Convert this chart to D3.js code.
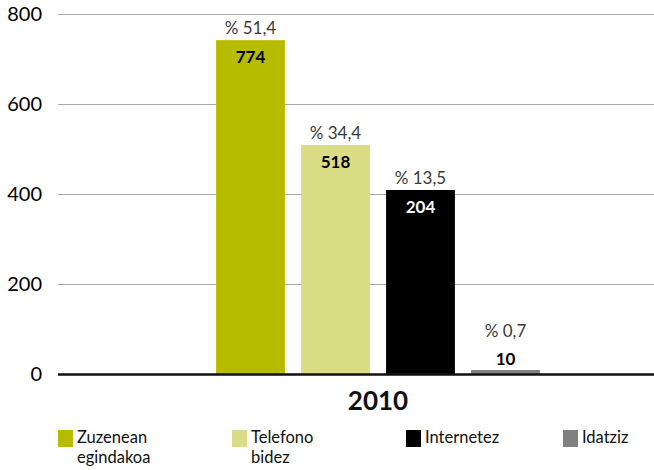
<!DOCTYPE html>
<html>
<head>
<meta charset="utf-8">
<script src="https://cdn.jsdelivr.net/npm/d3@7"></script>
<style>
    body { margin: 0; background: #fff; }
    svg text { font-family: Lato, "Open Sans", sans-serif; }
</style>
</head>
<body>
<div id="chart"></div>
<script>
// data
const years = ["2010"];
const series = ["Zuzenean egindakoa", "Telefono bidez", "Internetez", "Idatziz"];
const legendLines = [["Zuzenean", "egindakoa"], ["Telefono", "bidez"], ["Internetez"], ["Idatziz"]];
// bar heights as drawn in the picture (the printed labels differ)
const barValues = [743, 510, 410, 10];
const valueLabels = ["774", "518", "204", "10"];
const percentLabels = ["% 51,4", "% 34,4", "% 13,5", "% 0,7"];
const yTicks = [0, 200, 400, 600, 800];
const colors = ["#b7bc00", "#dbdd86", "#000000", "#808080"];

const width = 654, height = 470;
const svg = d3.select("#chart").append("svg")
    .attr("width", width)
    .attr("height", height);

const left = 58, zeroY = 374.5, topY = 14.5;

const y = d3.scaleLinear().domain([0, 800]).range([zeroY, topY]);

const x0 = d3.scaleBand().domain(years).range([left, 698]);
const groupWidth = 340;
const x1 = d3.scaleBand().domain(series)
    .range([0, groupWidth])
    .paddingInner(0.19)
    .paddingOuter(0.095);
const groupStart = x0("2010") + x0.bandwidth() / 2 - groupWidth / 2;

// gridlines
svg.append("g")
    .selectAll("line")
    .data(yTicks.filter(d => d > 0))
    .join("line")
    .attr("x1", left)
    .attr("x2", width)
    .attr("y1", d => y(d))
    .attr("y2", d => y(d))
    .attr("stroke", "#a8a8a8")
    .attr("stroke-width", 1.2);

// y axis labels
const yAxis = d3.axisLeft(y).tickValues(yTicks).tickSize(0).tickPadding(16);
svg.append("g")
    .attr("transform", "translate(" + left + ",0)")
    .call(yAxis)
    .call(g => g.select(".domain").remove())
    .call(g => g.selectAll("text")
        .attr("font-size", 20)
        .attr("fill", "#000"));

// bars
const bars = svg.append("g");
series.forEach(function (s, i) {
    const bx = groupStart + x1(s);
    const bw = x1.bandwidth();
    const top = y(barValues[i]);
    bars.append("rect")
        .attr("x", bx)
        .attr("y", top)
        .attr("width", bw)
        .attr("height", zeroY - top)
        .attr("fill", colors[i]);

    const small = barValues[i] < 50;
    // bold value label, inside bar top (above for the tiny one)
    bars.append("text")
        .attr("x", bx + bw / 2)
        .attr("y", small ? top - 5 : top + 23)
        .attr("text-anchor", "middle")
        .attr("font-size", 17)
        .attr("font-weight", "bold")
        .attr("fill", i === 2 ? "#fff" : "#000")
        .text(valueLabels[i]);

    // percent label above
    bars.append("text")
        .attr("x", bx + bw / 2)
        .attr("y", small ? top - 33 : top - 6)
        .attr("text-anchor", "middle")
        .attr("font-size", 17)
        .attr("fill", "#3a3a3a")
        .text(percentLabels[i]);
});

// zero axis line
svg.append("line")
    .attr("x1", left)
    .attr("x2", width)
    .attr("y1", zeroY)
    .attr("y2", zeroY)
    .attr("stroke", "#111")
    .attr("stroke-width", 2.6);

// category label
svg.append("text")
    .attr("x", x0("2010") + x0.bandwidth() / 2)
    .attr("y", 410)
    .attr("text-anchor", "middle")
    .attr("font-size", 26)
    .attr("font-weight", "bold")
    .attr("fill", "#111")
    .text("2010");

// legend
const legendX = [58, 232, 406, 563];
const legend = svg.append("g");
series.forEach(function (s, i) {
    legend.append("rect")
        .attr("x", legendX[i])
        .attr("y", 430)
        .attr("width", 15)
        .attr("height", 17)
        .attr("fill", colors[i]);
    legendLines[i].forEach(function (line, j) {
        legend.append("text")
            .attr("x", legendX[i] + 19)
            .attr("y", 443 + j * 20)
            .attr("font-size", 16.5)
            .attr("fill", "#111")
            .text(line);
    });
});
</script>
</body>
</html>
